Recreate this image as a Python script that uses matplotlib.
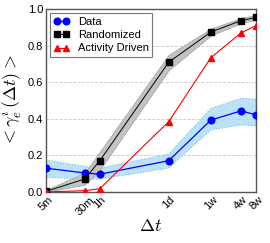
import matplotlib
matplotlib.use("Agg")
import matplotlib.pyplot as plt

plt.rcParams["font.family"] = ["Liberation Sans", "DejaVu Sans"]
plt.rcParams["mathtext.fontset"] = "cm"

x_minutes = [5, 30, 60, 1440, 10080, 40320, 80640]
x_labels = ["5m", "30m", "1h", "1d", "1w", "4w", "8w"]

data_mean = [0.13, 0.104, 0.097, 0.171, 0.393, 0.443, 0.422]
data_low = [0.08, 0.07, 0.07, 0.13, 0.339, 0.366, 0.36]
data_high = [0.175, 0.14, 0.13, 0.208, 0.457, 0.512, 0.508]

rand_mean = [0.003, 0.071, 0.171, 0.709, 0.874, 0.936, 0.954]
rand_low = [0.0, 0.04, 0.12, 0.665, 0.855, 0.922, 0.942]
rand_high = [0.012, 0.105, 0.22, 0.75, 0.893, 0.95, 0.968]

act_mean = [0.0, 0.007, 0.018, 0.384, 0.734, 0.869, 0.909]

fig = plt.figure(figsize=(2.7, 2.43), dpi=100)
ax = fig.add_axes([0.17, 0.21, 0.778, 0.753])

ax.fill_between(x_minutes, data_low, data_high, facecolor="#aadcf7", edgecolor="#6aaee0",
                linestyle=":", linewidth=0.8, alpha=0.8, zorder=1)
ax.fill_between(x_minutes, rand_low, rand_high, facecolor="#c2c2c2", edgecolor="#a0a0a0",
                linewidth=0.5, zorder=1)

ax.plot(x_minutes, data_mean, "-o", color="blue", markersize=4.8, linewidth=0.9, label="Data", zorder=3)
ax.plot(x_minutes, rand_mean, "-s", color="black", markersize=4.3, linewidth=0.7, label="Randomized", zorder=3)
ax.plot(x_minutes, act_mean, "-^", color="red", markersize=4.0, linewidth=0.8, label="Activity Driven", zorder=3)

ax.set_xscale("log")
ax.set_xlim(5, 80640)
ax.set_ylim(0, 1.0)
ax.set_xticks(x_minutes)
ax.set_xticklabels(x_labels, rotation=45, ha="center", fontsize=8)
ax.minorticks_off()
ax.set_yticks([0.0, 0.2, 0.4, 0.6, 0.8, 1.0])
ax.set_yticklabels(["0.0", "0.2", "0.4", "0.6", "0.8", "1.0"], fontsize=8)
ax.tick_params(length=0, pad=2)
ax.yaxis.grid(True, linestyle="--", color="#cccccc", linewidth=0.6)
ax.set_axisbelow(True)
for s in ax.spines.values():
    s.set_color("#555555")
    s.set_linewidth(1.0)

ax.set_xlabel(r"$\Delta t$", fontsize=13, labelpad=1)
ax.set_ylabel(r"$<\gamma_e^{i}\,(\Delta t)>$", fontsize=13, labelpad=2)

leg = ax.legend(loc="upper left", numpoints=2, fontsize=8, frameon=True, fancybox=False,
                borderpad=0.3, handlelength=1.4, labelspacing=0.3, handletextpad=0.8,
                borderaxespad=0.4)
leg.get_frame().set_edgecolor("#555555")
leg.get_frame().set_linewidth(0.8)

fig.savefig("out.png", dpi=100)
